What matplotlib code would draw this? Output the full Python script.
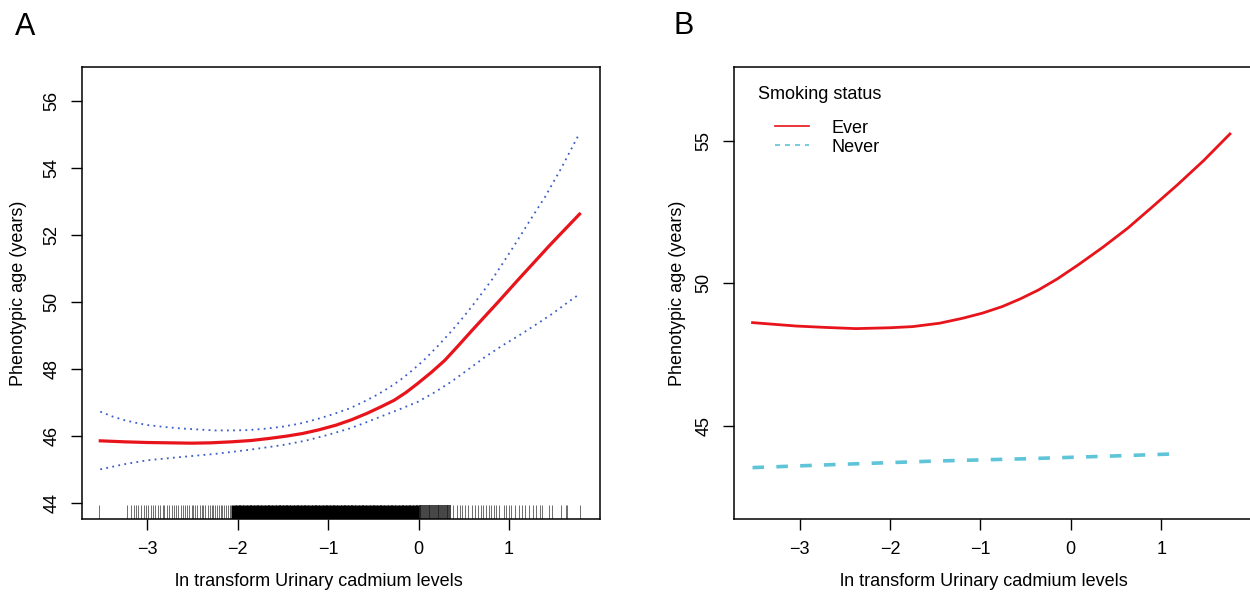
import matplotlib
matplotlib.use('Agg')
import matplotlib.pyplot as plt
from matplotlib.lines import Line2D

plt.rcParams['font.family'] = ['Liberation Sans', 'DejaVu Sans']
plt.rcParams['font.size'] = 13

# panel A: smooth curve with 95% CI
fit_x = [-3.52, -3.25, -3.0, -2.75, -2.51, -2.3, -2.07, -1.85, -1.655, -1.46,
         -1.28, -1.1, -0.91, -0.74, -0.57, -0.42, -0.27, -0.14, -0.01, 0.14,
         0.29, 0.44, 0.59, 0.74, 0.88, 1.0, 1.11, 1.28, 1.45, 1.62, 1.78]
fit_y = [45.86, 45.83, 45.81, 45.80, 45.79, 45.80, 45.83, 45.87, 45.93, 46.00,
         46.08, 46.19, 46.33, 46.49, 46.68, 46.87, 47.07, 47.30, 47.57, 47.90,
         48.26, 48.70, 49.15, 49.59, 50.00, 50.36, 50.69, 51.19, 51.69, 52.17, 52.62]
upper_x = [-3.52, -3.39, -3.26, -3.13, -3.0, -2.8, -2.63, -2.45, -2.25, -2.06,
           -1.88, -1.7, -1.51, -1.32, -1.13, -0.95, -0.76, -0.61, -0.46, -0.33,
           -0.2, -0.07, 0.06, 0.21, 0.36, 0.48, 0.59, 0.70, 0.81, 0.93, 1.05,
           1.22, 1.40, 1.58, 1.76]
upper_y = [46.73, 46.59, 46.48, 46.40, 46.33, 46.27, 46.23, 46.20, 46.17, 46.17,
           46.18, 46.22, 46.28, 46.37, 46.50, 46.65, 46.83, 47.02, 47.23, 47.44,
           47.68, 47.96, 48.27, 48.68, 49.12, 49.50, 49.87, 50.26, 50.66, 51.15,
           51.65, 52.38, 53.14, 54.00, 54.93]
lower_x = [-3.52, -3.26, -3.0, -2.62, -2.25, -1.88, -1.51, -1.24, -1.0, -0.76,
           -0.6, -0.43, -0.22, -0.01, 0.18, 0.36, 0.55, 0.735, 0.92, 1.11, 1.30,
           1.48, 1.62, 1.76]
lower_y = [45.01, 45.16, 45.28, 45.38, 45.47, 45.59, 45.73, 45.87, 46.04, 46.23,
           46.39, 46.57, 46.79, 47.02, 47.31, 47.62, 47.99, 48.36, 48.69, 49.00,
           49.33, 49.65, 49.93, 50.2]

# rug of observations (x values)
rug_light = [-3.53, -3.22, -3.18, -3.15, -3.12, -3.10, -3.07, -3.04, -3.02, -2.99,
             -2.96, -2.94, -2.91, -2.88, -2.86, -2.83, -2.81, -2.78, -2.76, -2.73,
             -2.71, -2.68, -2.66, -2.63, -2.61, -2.58, -2.56, -2.54, -2.51, -2.49,
             -2.47, -2.45, -2.42, -2.40, -2.38, -2.36, -2.33, -2.31, -2.29, -2.27,
             -2.25, -2.23, -2.21, -2.19, -2.17, -2.15, -2.13, -2.11, -2.09, -2.07,
             0.38, 0.42, 0.455, 0.48, 0.51, 0.55, 0.586, 0.62, 0.66, 0.69, 0.716,
             0.745, 0.773, 0.80, 0.83, 0.86, 0.885,
             0.94, 0.967, 0.996, 1.027, 1.07, 1.11, 1.14, 1.18, 1.22, 1.26, 1.30,
             1.34, 1.37, 1.44, 1.48, 1.58, 1.63, 1.64, 1.78]
rug_dense = [-2.04, -2.00, -1.96, -1.92, -1.88, -1.84, -1.80, -1.76, -1.72, -1.68,
             -1.64, -1.60, -1.56, -1.52, -1.48, -1.44, -1.40, -1.36, -1.32, -1.28,
             -1.24, -1.20, -1.16, -1.12, -1.08, -1.04, -1.00, -0.96, -0.92, -0.88,
             -0.84, -0.80, -0.76, -0.72, -0.68, -0.64, -0.60, -0.56, -0.52, -0.48,
             -0.44, -0.40, -0.36, -0.32, -0.28, -0.24, -0.20, -0.16, -0.12, -0.08,
             -0.04, -0.01]
rug_dark = [0.01, 0.03, 0.05, 0.07, 0.09, 0.11, 0.13, 0.15, 0.17, 0.19, 0.21,
            0.23, 0.25, 0.27, 0.29, 0.31, 0.33, 0.35]

# panel B: by smoking status
ever_x = [-3.52, -3.28, -3.035, -2.7, -2.376, -2.0, -1.75, -1.45, -1.20, -0.98,
          -0.76, -0.56, -0.36, -0.15, 0.08, 0.35, 0.63, 0.9, 1.18, 1.47, 1.76]
ever_y = [48.62, 48.56, 48.50, 48.45, 48.41, 48.44, 48.48, 48.60, 48.77, 48.95,
          49.18, 49.45, 49.76, 50.15, 50.64, 51.25, 51.93, 52.67, 53.45, 54.30, 55.23]
never_x = [-3.52, -2.5, -1.5, -0.5, 0.0, 0.5, 1.14]
never_y = [43.54, 43.66, 43.77, 43.85, 43.90, 43.95, 44.02]

fig = plt.figure(figsize=(12.5, 5.94), dpi=100)
axA = fig.add_axes([0.0654, 0.1263, 0.4146, 0.7606])
axB = fig.add_axes([0.5872, 0.1263, 0.4141, 0.7606])

red = '#e8141c'
blue = '#3a5cc8'
cyan = '#5ec4d8'

axA.plot(fit_x, fit_y, color=red, lw=2.3, solid_joinstyle='round')
axA.plot(upper_x, upper_y, color=blue, lw=1.3, linestyle=(0, (1, 2.4)))
axA.plot(lower_x, lower_y, color=blue, lw=1.3, linestyle=(0, (1, 2.4)))
axA.vlines(rug_light, 0, 0.032, transform=axA.get_xaxis_transform(),
           color='#555555', lw=0.6)
axA.vlines(rug_dense, 0, 0.032, transform=axA.get_xaxis_transform(),
           color='black', lw=3.6)
axA.vlines(rug_dark, 0, 0.032, transform=axA.get_xaxis_transform(),
           color='#222222', lw=1.2)
axA.set_xlim(-3.725, 2.006)
axA.set_ylim(43.53, 57.0)
axA.set_xticks([-3, -2, -1, 0, 1])
axA.set_yticks([44, 46, 48, 50, 52, 54, 56])

axB.plot(ever_x, ever_y, color=red, lw=2.0, solid_joinstyle='round')
axB.plot(never_x, never_y, color=cyan, lw=2.6, linestyle=(0, (3.2, 3.4)))
axB.set_xlim(-3.725, 2.0)
axB.set_ylim(41.74, 57.57)
axB.set_xticks([-3, -2, -1, 0, 1])
axB.set_yticks([45, 50, 55])
axB.spines['right'].set_visible(False)

handles = [Line2D([], [], color=red, lw=1.2),
           Line2D([], [], color=cyan, lw=1.2, linestyle=(0, (3, 3)))]
axB.text(0.046, 0.939, 'Smoking status', transform=axB.transAxes,
         ha='left', va='center', fontsize=13)
axB.legend(handles, ['Ever', 'Never'], loc='upper left',
           bbox_to_anchor=(0.054, 0.912), frameon=False, fontsize=13,
           handlelength=1.9, handletextpad=1.25, labelspacing=0.12,
           borderpad=0.2)

for ax in (axA, axB):
    for s in ax.spines.values():
        s.set_linewidth(1.1)
    ax.tick_params(direction='out', length=8, width=1.0, pad=7.5, labelsize=13)
    for lab in ax.get_yticklabels():
        lab.set_rotation(90)
        lab.set_va('center')
    ax.set_xlabel('ln transform Urinary cadmium levels', fontsize=13)
    ax.set_ylabel('Phenotypic age (years)', fontsize=13)

axA.xaxis.set_label_coords(0.458, -0.12)
axB.xaxis.set_label_coords(0.483, -0.12)
axA.yaxis.set_label_coords(-0.105, 0.5)
axB.yaxis.set_label_coords(-0.093, 0.5)

fig.text(14.6 / 1250, 1 - 35 / 594, 'A', fontsize=22, ha='left', va='baseline')
fig.text(673 / 1250, 1 - 34 / 594, 'B', fontsize=22, ha='left', va='baseline')

fig.savefig('out.png', dpi=100)
